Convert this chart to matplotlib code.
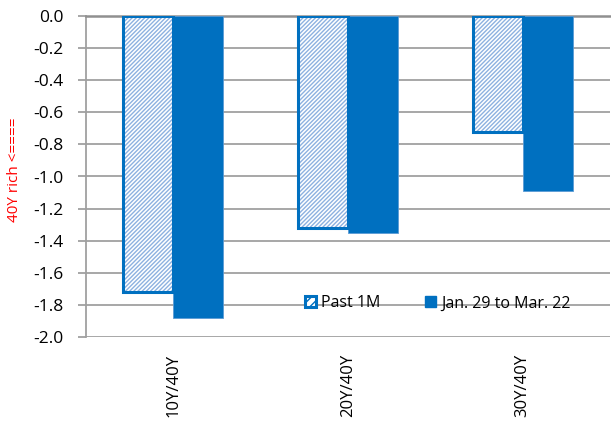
import matplotlib
matplotlib.use("Agg")
import matplotlib.pyplot as plt
from matplotlib.patches import Patch
import numpy as np

categories = ["10Y/40Y", "20Y/40Y", "30Y/40Y"]
past_1m = [-1.72, -1.32, -0.72]
jan29_mar22 = [-1.88, -1.35, -1.09]
yticks = [0.0, -0.2, -0.4, -0.6, -0.8, -1.0, -1.2, -1.4, -1.6, -1.8, -2.0]

blue = "#0070C0"
hatch_blue = "#8DB1E0"
grid_gray = "#A0A0A0"

plt.rcParams["font.family"] = ["Open Sans", "DejaVu Sans"]
plt.rcParams["hatch.linewidth"] = 1.0

fig = plt.figure(figsize=(6.11, 4.23), dpi=100)
ax = fig.add_axes([86 / 611, 1 - 337 / 423, 524 / 611, 321 / 423])

x = np.arange(len(categories))
w = 0.286
# hatched fill (light blue stripes) then a plain blue outline on top
ax.bar(x - w / 2, past_1m, width=w, facecolor="white", edgecolor=hatch_blue,
       linewidth=0, hatch="////////", zorder=3)
ax.bar(x - w / 2, past_1m, width=w, facecolor="none", edgecolor=blue,
       linewidth=2.2, zorder=4)
ax.bar(x + w / 2, jan29_mar22, width=w, color=blue, edgecolor="#5B9BD5",
       linewidth=0.6, zorder=3)

ax.set_xlim(-0.5, 2.5)
ax.set_ylim(-2.0, 0.0)
ax.set_yticks(yticks)
ax.set_yticklabels([f"{v:.1f}" for v in yticks], fontsize=12.5)
ax.set_xticks(x)
ax.set_xticklabels(categories, rotation=90, fontsize=12)
ax.tick_params(axis="x", length=0, pad=12)
ax.tick_params(axis="y", length=6, width=1.3, color=grid_gray, pad=10)

ax.grid(axis="y", color=grid_gray, linewidth=1.3, zorder=0)
for s in ["right", "bottom"]:
    ax.spines[s].set_visible(False)
ax.spines["left"].set_color(grid_gray)
ax.spines["left"].set_linewidth(1.3)
ax.spines["top"].set_color("#909090")
ax.spines["top"].set_linewidth(1.8)

ax.set_ylabel("40Y rich <====", color="#FF0000", fontsize=11, labelpad=6)
ax.yaxis.set_label_coords(-0.122, 0.52)

h1 = Patch(facecolor="white", edgecolor=blue, linewidth=2.2, hatch="////")
h2 = Patch(facecolor=blue, edgecolor=blue)
ax.legend([h1, h2], ["Past 1M", "Jan. 29 to Mar. 22"], loc="lower left",
          bbox_to_anchor=(0.39, 0.035), ncol=2, frameon=False, fontsize=11.5,
          handlelength=0.7, handleheight=0.7, handletextpad=0.3,
          columnspacing=2.8)

fig.savefig("out.png", dpi=100)
